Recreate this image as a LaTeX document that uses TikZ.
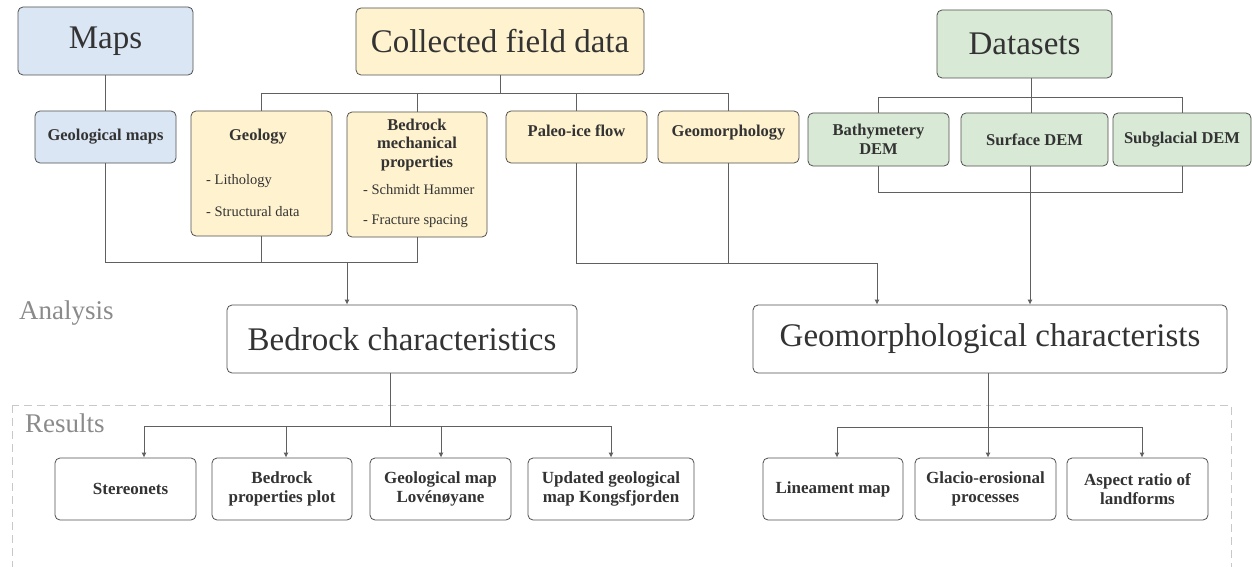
\documentclass[tikz,border=0pt]{standalone}
\usepackage{fontspec}
\setmainfont{Liberation Serif}
\usetikzlibrary{arrows.meta,calc}
\definecolor{bluef}{HTML}{DAE6F4}
\definecolor{yellowf}{HTML}{FFF2CF}
\definecolor{greenf}{HTML}{D8EAD6}
\definecolor{boxc}{HTML}{505050}
\definecolor{linec}{HTML}{606060}
\definecolor{txt}{HTML}{333333}
\definecolor{labc}{HTML}{8A8A8A}
\definecolor{dashc}{HTML}{C8C8C8}
\begin{document}
\begin{tikzpicture}[x=1pt,y=-1pt,
  box/.style={draw=boxc, line width=0.8pt, rounded corners=5pt, inner sep=0pt, align=center, text=txt},
  conn/.style={draw=linec, line width=0.9pt},
  arr/.style={conn, -{Latex[length=5pt,width=5pt]}},
  big/.style={font=\fontsize{33}{40}\selectfont},
  small/.style={font=\bfseries\fontsize{16.5}{18.5}\selectfont},
  listt/.style={font=\fontsize{14.5}{17}\selectfont, text=txt, inner sep=0pt, anchor=west},
  res/.style={box, minimum height=62pt, font=\bfseries\fontsize{17}{19.5}\selectfont},
  lab/.style={font=\fontsize{27}{32}\selectfont, text=labc, inner sep=0pt, anchor=west}]
\clip (0,0) rectangle (1252,567);
\fill[white] (0,0) rectangle (1252,567);
% dashed results frame
\draw[dashc, line width=1pt, dash pattern=on 8pt off 5pt] (12,405) rectangle (1231,600);
% top level
\node[box, fill=bluef, big, minimum width=175pt, minimum height=68pt] (maps) at (105.5,41) {Maps};
\node[box, fill=yellowf, big, minimum width=288pt, minimum height=67pt] (cfd) at (500,41.5) {Collected field data};
\node[box, fill=greenf, big, minimum width=175pt, minimum height=68pt] (ds) at (1024.5,44) {Datasets};
% second level
\node[box, fill=bluef, small, minimum width=141pt, minimum height=52pt] (gm) at (105.5,137) {Geological maps};
\node[box, fill=yellowf, minimum width=141pt, minimum height=125pt] (geo) at (261.5,173.5) {};
\node[small, text=txt, inner sep=0pt] (geot) at (258,137) {Geology};
\node[listt] (lith) at (206,181) {- Lithology};
\node[listt] (struct) at (206,212) {- Structural data};
\node[box, fill=yellowf, minimum width=140pt, minimum height=125pt] (bmp) at (417,174.5) {};
\node[small, text=txt, inner sep=0pt, align=center] (bmpt) at (417,145) {Bedrock\\mechanical\\properties};
\node[listt] (schm) at (363,190) {- Schmidt Hammer};
\node[listt] (frac) at (363,221) {- Fracture spacing};
\node[box, fill=yellowf, small, minimum width=141pt, minimum height=52pt, text depth=12pt] (pif) at (576.5,137) {Paleo-ice flow};
\node[box, fill=yellowf, small, minimum width=141pt, minimum height=52pt, text depth=12pt] (gmo) at (728.5,137) {Geomorphology};
\node[box, fill=greenf, small, minimum width=141pt, minimum height=53pt] (bath) at (878.5,139.5) {Bathymetery\\DEM};
\node[box, fill=greenf, small, minimum width=147pt, minimum height=53pt] (sdem) at (1034.5,139.5) {Surface DEM};
\node[box, fill=greenf, small, minimum width=138pt, minimum height=53pt] (sub) at (1182,139.5) {Subglacial DEM};
% analysis
\node[lab] (an) at (19,313) {Analysis};
\node[box, fill=white, big, minimum width=350pt, minimum height=68pt] (bc) at (402,339) {Bedrock characteristics};
\node[box, fill=white, big, minimum width=474pt, minimum height=68pt] (gc) at (990,339) {Geomorphological characterists};
% results
\node[lab] (re) at (25,423) {Results};
\node[res, minimum width=141pt] (r1) at (125.5,489) {\hspace*{10pt}Stereonets};
\node[res, minimum width=140pt] (r2) at (282,489) {Bedrock\\properties plot};
\node[res, minimum width=141pt] (r3) at (440.5,489) {Geological map\\Lovénøyane};
\node[res, minimum width=166pt] (r4) at (611,489) {Updated geological\\map Kongsfjorden};
\node[res, minimum width=140pt] (r5) at (833,489) {Lineament map};
\node[res, minimum width=141pt] (r6) at (985.5,489) {Glacio-erosional\\processes};
\node[res, minimum width=141pt] (r7) at (1137.5,489) {Aspect ratio of\\landforms};
% helper coordinates
\coordinate (bar1) at (0,93);
\coordinate (bar2) at (1031,97);
\coordinate (bar3) at (0,192);
\coordinate (a1) at (347,262);
\coordinate (a2) at (877,263);
\coordinate (a3) at (1030,192);
\coordinate (b1) at (390,426);
\coordinate (b2) at (988,427);
\coordinate (c1) at (144,426);
\coordinate (c2) at (286,426);
\coordinate (c3) at (441,426);
\coordinate (c4) at (611,426);
\coordinate (d1) at (837,427);
\coordinate (d3) at (1142,427);
% top connectors
\draw[conn] (maps) -- (gm);
\draw[conn] (cfd.south) -- (cfd.south |- bar1);
\draw[conn] (geo.north) -- (geo.north |- bar1) -| (gmo.north);
\draw[conn] (bmp.north) -- (bmp.north |- bar1);
\draw[conn] (pif.north) -- (pif.north |- bar1);
\draw[conn] (bar2 |- ds.south) -- (bar2);
\draw[conn] (bath.north) -- (bath.north |- bar2) -| (sub.north);
\draw[conn] (bar2) -- (bar2 |- sdem.north);
\draw[conn] (bath.south) -- (bath.south |- bar3) -| (sub.south);
% to analysis
\draw[conn] (gm.south) -- (gm.south |- a1) -| (bmp.south);
\draw[conn] (geo.south) -- (geo.south |- a1);
\draw[arr] (a1) -- (a1 |- bc.north);
\draw[conn] (pif.south) |- (a2);
\draw[conn] (gmo.south) -- (gmo.south |- a2);
\draw[arr] (a2) -- (a2 |- gc.north);
\draw[arr] (a3 |- sdem.south) -- (a3 |- gc.north);
% to results
\draw[conn] (b1 |- bc.south) -- (b1);
\draw[conn] (c1) -- (c4);
\draw[arr] (c1) -- (c1 |- r1.north);
\draw[arr] (c2) -- (c2 |- r2.north);
\draw[arr] (c3) -- (c3 |- r3.north);
\draw[arr] (c4) -- (c4 |- r4.north);
\draw[conn] (b2 |- gc.south) -- (b2);
\draw[conn] (d1) -- (d3);
\draw[arr] (d1) -- (d1 |- r5.north);
\draw[arr] (b2) -- (b2 |- r6.north);
\draw[arr] (d3) -- (d3 |- r7.north);
\end{tikzpicture}
\end{document}
